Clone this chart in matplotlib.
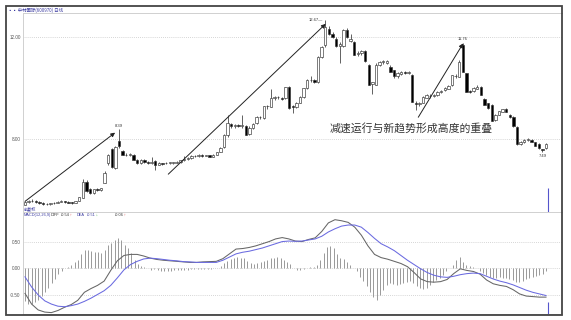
import matplotlib.pyplot as plt
import numpy as np
from matplotlib.patches import Rectangle

plt.rcParams['font.family'] = ['Noto Sans CJK SC', 'DejaVu Sans']

# daily candles (open, high, low, close)
open_ = [5.45, 5.55, 5.60, 5.58, 5.55, 5.50, 5.48, 5.47, 5.51, 5.53, 5.57, 5.58, 5.55, 5.53, 5.53,
         5.60, 5.72, 6.32, 6.08, 5.92, 6.05, 6.02, 6.30, 7.06, 7.61, 6.87, 7.92, 7.55, 7.40, 7.38,
         7.40, 7.20, 7.07, 7.18, 7.10, 7.07, 7.15, 7.00, 7.06, 7.06, 7.08, 7.08, 7.09, 7.11, 7.18,
         7.25, 7.28, 7.35, 7.33, 7.38, 7.36, 7.38, 7.32, 7.40, 7.52, 7.70, 8.17, 8.58, 8.52, 8.54,
         8.52, 8.50, 8.20, 8.45, 8.62, 8.86, 8.82, 9.28, 9.27, 9.60, 9.65, 9.62, 9.60, 10.03, 9.28,
         9.25, 9.42, 9.64, 9.99, 10.30, 10.32, 10.24, 11.22, 11.68, 12.30, 12.10, 11.92, 11.62, 11.62, 12.25,
         11.82, 11.80, 11.32, 11.35, 11.43, 10.90, 10.15, 10.12, 10.90, 11.00, 10.98, 10.83, 10.70, 10.45, 10.55,
         10.60, 10.58, 10.50, 9.40, 9.38, 9.42, 9.62, 9.70, 9.70, 9.72, 9.86, 9.92, 9.98, 10.11, 10.45,
         10.44, 11.68, 10.57, 9.86, 9.88, 9.98, 10.05, 9.56, 9.40, 9.34, 8.75, 8.95, 9.08, 9.18, 8.95,
         8.88, 8.48, 7.80, 7.88, 7.96, 7.98, 7.88, 7.82, 7.60, 7.66]
high = [5.60, 5.64, 5.66, 5.62, 5.58, 5.54, 5.52, 5.53, 5.56, 5.60, 5.62, 5.61, 5.58, 5.57, 5.60,
        5.76, 6.45, 6.42, 6.12, 6.08, 6.10, 6.12, 6.75, 7.42, 7.65, 7.75, 8.39, 7.60, 7.45, 7.46,
        7.44, 7.25, 7.22, 7.22, 7.14, 7.30, 7.20, 7.10, 7.09, 7.10, 7.12, 7.12, 7.14, 7.20, 7.35,
        7.32, 7.38, 7.40, 7.42, 7.41, 7.40, 7.40, 7.42, 7.52, 7.70, 8.20, 8.95, 8.65, 8.58, 8.60,
        8.95, 8.55, 8.50, 8.62, 8.90, 8.92, 9.30, 9.35, 9.95, 9.70, 9.70, 9.66, 10.05, 10.06, 9.35,
        9.45, 9.70, 10.00, 10.35, 10.45, 10.36, 11.25, 11.65, 12.67, 12.40, 12.18, 11.98, 11.80, 12.30, 12.35,
        12.10, 11.85, 11.45, 11.50, 11.48, 10.95, 10.25, 10.98, 11.05, 11.10, 11.08, 10.88, 10.72, 10.62, 10.68,
        10.65, 10.65, 10.54, 9.48, 9.45, 9.70, 9.78, 9.75, 9.78, 9.88, 9.92, 10.05, 10.12, 10.52, 10.55,
        11.10, 11.76, 10.60, 9.92, 10.02, 10.12, 10.08, 9.60, 9.42, 9.36, 9.00, 9.12, 9.20, 9.22, 8.98,
        8.90, 8.50, 7.92, 8.00, 8.05, 8.02, 7.90, 7.84, 7.64, 7.86]
low = [5.42, 5.52, 5.55, 5.52, 5.48, 5.45, 5.44, 5.45, 5.48, 5.51, 5.54, 5.53, 5.50, 5.49, 5.51,
       5.58, 5.70, 5.95, 5.88, 5.88, 5.98, 6.00, 6.28, 7.00, 6.90, 6.85, 7.68, 7.38, 7.33, 7.35,
       7.18, 7.05, 7.02, 7.08, 7.04, 7.05, 6.82, 6.98, 7.01, 7.02, 7.05, 7.04, 7.06, 7.08, 7.15,
       7.20, 7.24, 7.30, 7.30, 7.32, 7.33, 7.30, 7.30, 7.38, 7.50, 7.68, 8.10, 8.45, 8.46, 8.48,
       8.45, 8.15, 8.18, 8.40, 8.58, 8.78, 8.80, 9.20, 9.25, 9.55, 9.58, 9.52, 9.58, 9.18, 9.04,
       9.22, 9.40, 9.60, 9.95, 10.22, 10.18, 10.20, 11.18, 11.60, 12.05, 11.95, 11.58, 10.96, 11.58, 11.95,
       11.78, 11.28, 11.25, 11.30, 11.02, 10.10, 9.75, 10.10, 10.85, 10.95, 10.95, 10.62, 10.40, 10.40, 10.50,
       10.55, 10.55, 9.45, 9.14, 9.30, 9.40, 9.60, 9.62, 9.66, 9.70, 9.82, 9.90, 9.95, 10.08, 10.40,
       10.42, 10.62, 9.84, 9.80, 9.86, 9.95, 9.72, 9.32, 9.20, 8.72, 8.72, 8.93, 9.06, 9.05, 8.85,
       8.49, 7.78, 7.78, 7.86, 7.94, 7.88, 7.72, 7.64, 7.49, 7.64]
close = [5.55, 5.60, 5.58, 5.55, 5.50, 5.48, 5.47, 5.51, 5.53, 5.57, 5.58, 5.55, 5.53, 5.52, 5.58,
         5.74, 6.35, 5.98, 5.90, 6.05, 6.02, 6.10, 6.70, 7.39, 6.93, 7.71, 7.72, 7.40, 7.38, 7.42,
         7.20, 7.07, 7.18, 7.10, 7.07, 7.12, 6.98, 7.06, 7.04, 7.08, 7.10, 7.09, 7.11, 7.18, 7.25,
         7.28, 7.35, 7.33, 7.38, 7.36, 7.37, 7.32, 7.38, 7.50, 7.65, 8.17, 8.62, 8.52, 8.54, 8.52,
         8.55, 8.18, 8.45, 8.60, 8.86, 8.88, 9.28, 9.30, 9.60, 9.65, 9.63, 9.56, 10.03, 9.21, 9.25,
         9.42, 9.66, 9.99, 10.30, 10.32, 10.22, 11.22, 11.61, 12.39, 12.10, 12.00, 11.62, 11.70, 12.26, 12.00,
         11.90, 11.30, 11.38, 11.45, 11.05, 10.12, 10.22, 10.90, 11.02, 11.04, 11.05, 10.64, 10.45, 10.58, 10.64,
         10.58, 10.60, 9.46, 9.38, 9.40, 9.65, 9.72, 9.68, 9.74, 9.85, 9.90, 10.00, 10.08, 10.50, 10.48,
         11.03, 10.64, 9.86, 9.85, 10.00, 10.05, 9.73, 9.34, 9.22, 8.73, 8.95, 9.10, 9.18, 9.08, 8.88,
         8.50, 7.80, 7.88, 7.96, 8.02, 7.90, 7.74, 7.66, 7.58, 7.80]

# MACD(12,26,9): DIFF and DEA, bars read one by one
diff = [-0.47, -0.67, -0.78, -0.82, -0.83, -0.79, -0.73, -0.68, -0.60, -0.45,
        -0.38, -0.32, -0.24, -0.04, 0.14, 0.24, 0.26, 0.26, 0.23, 0.19,
        0.165, 0.15, 0.14, 0.13, 0.12, 0.11, 0.11, 0.12, 0.125, 0.13,
        0.18, 0.27, 0.36, 0.37, 0.39, 0.42, 0.46, 0.50, 0.55, 0.575,
        0.55, 0.51, 0.50, 0.54, 0.57, 0.69, 0.85, 0.91, 0.89, 0.86,
        0.77, 0.62, 0.42, 0.26, 0.20, 0.17, 0.13, 0.09, 0.03, -0.08,
        -0.20, -0.25, -0.26, -0.25, -0.21, -0.10, -0.01, -0.04, -0.06, -0.11,
        -0.22, -0.29, -0.32, -0.34, -0.40, -0.48, -0.52, -0.53, -0.54, -0.54]
dea = [-0.16, -0.35, -0.50, -0.61, -0.67, -0.71, -0.72, -0.70, -0.67, -0.62,
       -0.56, -0.49, -0.42, -0.32, -0.18, -0.03, 0.07, 0.13, 0.175, 0.19,
       0.18, 0.165, 0.15, 0.14, 0.125, 0.12, 0.11, 0.11, 0.11, 0.11,
       0.15, 0.21, 0.27, 0.30, 0.32, 0.35, 0.38, 0.42, 0.46, 0.50,
       0.51, 0.505, 0.51, 0.53, 0.55, 0.60, 0.68, 0.74, 0.79, 0.81,
       0.81, 0.77, 0.67, 0.56, 0.46, 0.40, 0.33, 0.24, 0.15, 0.07,
       -0.01, -0.08, -0.13, -0.16, -0.17, -0.15, -0.12, -0.10, -0.09, -0.10,
       -0.15, -0.20, -0.24, -0.27, -0.31, -0.36, -0.41, -0.45, -0.48, -0.51]
macd_hist = [-0.62, -0.66, -0.675, -0.64, -0.59, -0.51, -0.45, -0.375, -0.28, -0.20,
             -0.11, -0.05, 0.0, 0.03, 0.06, 0.11, 0.156, 0.26, 0.34, 0.34,
             0.325, 0.31, 0.31, 0.28, 0.34, 0.44, 0.47, 0.53, 0.56, 0.53,
             0.44, 0.375, 0.28, 0.156, 0.075, 0.04, 0.02, 0.0125, -0.03, -0.013,
             -0.03, -0.045, -0.05, -0.045, -0.045, -0.04, -0.04, -0.03, -0.03, -0.025,
             -0.02, -0.013, -0.006, -0.013, -0.02, -0.013, -0.013, 0.0, 0.0125, 0.05,
             0.09, 0.14, 0.175, 0.20, 0.22, 0.20, 0.19, 0.14, 0.09, 0.075,
             0.09, 0.11, 0.14, 0.156, 0.19, 0.20, 0.21, 0.19, 0.156,
             0.12, 0.075, 0.0125, -0.03, -0.03, -0.02, 0.0125, 0.03, 0.03, 0.06,
             0.156, 0.28, 0.39, 0.41, 0.375, 0.26, 0.19, 0.175, 0.125, 0.06,
             0.0, -0.05, -0.16, -0.24, -0.34, -0.45, -0.53, -0.59, -0.50, -0.41,
             -0.31, -0.28, -0.30, -0.31, -0.30, -0.28, -0.25, -0.24, -0.28, -0.34,
             -0.375, -0.39, -0.36, -0.31, -0.26, -0.22, -0.175, -0.125, -0.06, 0.0,
             0.06, 0.156, 0.22, 0.125, 0.06, 0.04, 0.03, 0.0, -0.05, -0.09,
             -0.125, -0.16, -0.175, -0.175, -0.16, -0.175, -0.19, -0.20, -0.22, -0.25,
             -0.26, -0.24, -0.20, -0.175, -0.16, -0.14, -0.125, -0.11, -0.06]

price_ticks = [8, 12]
macd_ticks = [-0.5, 0, 0.5]
title = '▪▪ 中材国际(600970) 日线'
note = '减速运行与新趋势形成高度的重叠'

# trend arrows (candle index, price)
arrows = [((0, 5.58), (24.9, 8.26)),
          ((39.6, 6.64), (83.1, 12.50)),
          ((108.7, 8.86), (121.1, 11.74))]

W, H = 571, 320
fig = plt.figure(figsize=(W / 100, H / 100), dpi=100)


def box(x0, y0, x1, y1):
    return [x0 / W, 1 - y1 / H, (x1 - x0) / W, (y1 - y0) / H]


def ftext(x, y, s, **kw):
    fig.text(x / W, 1 - y / H, s, **kw)


ax = fig.add_axes(box(22.7, 13, 562, 212))
ax2 = fig.add_axes(box(22.7, 212, 562, 314), sharex=ax)

n = len(close)
idx = np.arange(n)
o = np.array(open_)
c = np.array(close)
up = c >= o

ax.vlines(idx, low, high, color='#222', lw=0.5, zorder=2)
body = np.maximum(np.abs(c - o), 0.025)
ax.bar(idx, body, bottom=np.minimum(o, c), width=0.66,
       color=np.where(up, 'white', 'black'), edgecolor='#333', linewidth=0.45, zorder=3)

step = (546 - 25) / (n - 1)
ax.set_xlim(-(25 - 22.7) / step, n - 1 + (562 - 546) / step)
ax.set_ylim(5.166, 12.924)
ax2.set_ylim(-0.856, 1.054)

for a, ticks in ((ax, price_ticks), (ax2, macd_ticks)):
    a.set_yticks(ticks)
    a.set_yticklabels([f'{t:.2f}' for t in ticks], fontsize=3.3, color='#555',
                      family='Liberation Sans')
    a.tick_params(axis='y', length=0, pad=1.5)
    a.tick_params(axis='x', bottom=False, labelbottom=False)
    for t in ticks:
        a.axhline(t, color='#c8c8c8', lw=0.6, ls=(0, (1, 1.5)), zorder=0)
    for side in ('top', 'bottom', 'left'):
        a.spines[side].set_color('#d0d0d0')
        a.spines[side].set_linewidth(0.7)
    a.spines['right'].set_visible(False)

# price labels at the notable highs and the final low
lab = dict(fontsize=3.0, color='#333', family='Liberation Sans')
i1 = int(np.argmax(high[:40]))
ax.text(i1, high[i1] + 0.05, f'{high[i1]:.2f}', ha='center', va='bottom', **lab)
i2 = int(np.argmax(high))
ax.text(i2 - 0.6, high[i2], f'{high[i2]:.2f}—', ha='right', va='center', **lab)
i3 = 100 + int(np.argmax(high[100:]))
ax.text(i3, high[i3] + 0.06, f'{high[i3]:.2f}', ha='center', va='bottom', **lab)
i4 = 130 + int(np.argmin(low[130:]))
ax.text(i4, low[i4] - 0.05, f'{low[i4]:.2f}', ha='center', va='top', **lab)

for start, end in arrows:
    ax.annotate('', xy=end, xytext=start,
                arrowprops=dict(arrowstyle='-|>', color='#222', lw=0.7,
                                mutation_scale=6, shrinkA=0, shrinkB=0))

ax.text(84.3, 8.44, note, fontsize=7.8, ha='left', va='center', color='#333')

# cursor line at the right edge
cur = n - 1 + 0.6
ax.vlines(cur, 5.166, 6.10, color='#5555cc', lw=0.8)
ax2.vlines(cur, -0.856, -0.63, color='#5555cc', lw=0.8)

# MACD panel
xh = np.linspace(0, n - 1, len(macd_hist))
ax2.vlines(xh, 0, macd_hist, color='#999', lw=0.7, zorder=1)
xl = np.linspace(0, n - 1, len(diff))
ax2.plot(xl, diff, color='#666', lw=0.75, zorder=3)
ax2.plot(xl, dea, color='#6a6ae0', lw=0.75, zorder=3)

# header texts
hdr = dict(fontsize=2.8, va='center', family=['Liberation Sans', 'DejaVu Sans'])
ftext(8, 10.5, title, fontsize=3.2, color='#3a3aa0', va='center')
ftext(24, 208.5, '前复权', fontsize=3.0, color='#3a3aa0', va='center')
hy = 215
ftext(24, hy, 'MACD(12,26,9)', color='#3a3aa0', **hdr)
ftext(51, hy, 'DIFF', color='#333', **hdr)
ftext(61, hy, f'{diff[-1]:.2f}', color='#333', **hdr)
ftext(69, hy, '↑', color='#d02020', **hdr)
ftext(77, hy, 'DEA', color='#3a3aa0', **hdr)
ftext(87, hy, f'{dea[-1]:.2f}', color='#3a3aa0', **hdr)
ftext(95, hy, '↓', color='#20a020', **hdr)
ftext(115, hy, f'{macd_hist[-1]:.2f}', color='#333', **hdr)
ftext(123, hy, '↑', color='#d02020', **hdr)

# outer frame
fig.add_artist(Rectangle((6 / W, 1 - 315 / H), (562 - 6) / W, (315 - 6) / H,
                         transform=fig.transFigure, fill=False, edgecolor='#444', lw=1.3))

fig.savefig('out.png', dpi=100)
